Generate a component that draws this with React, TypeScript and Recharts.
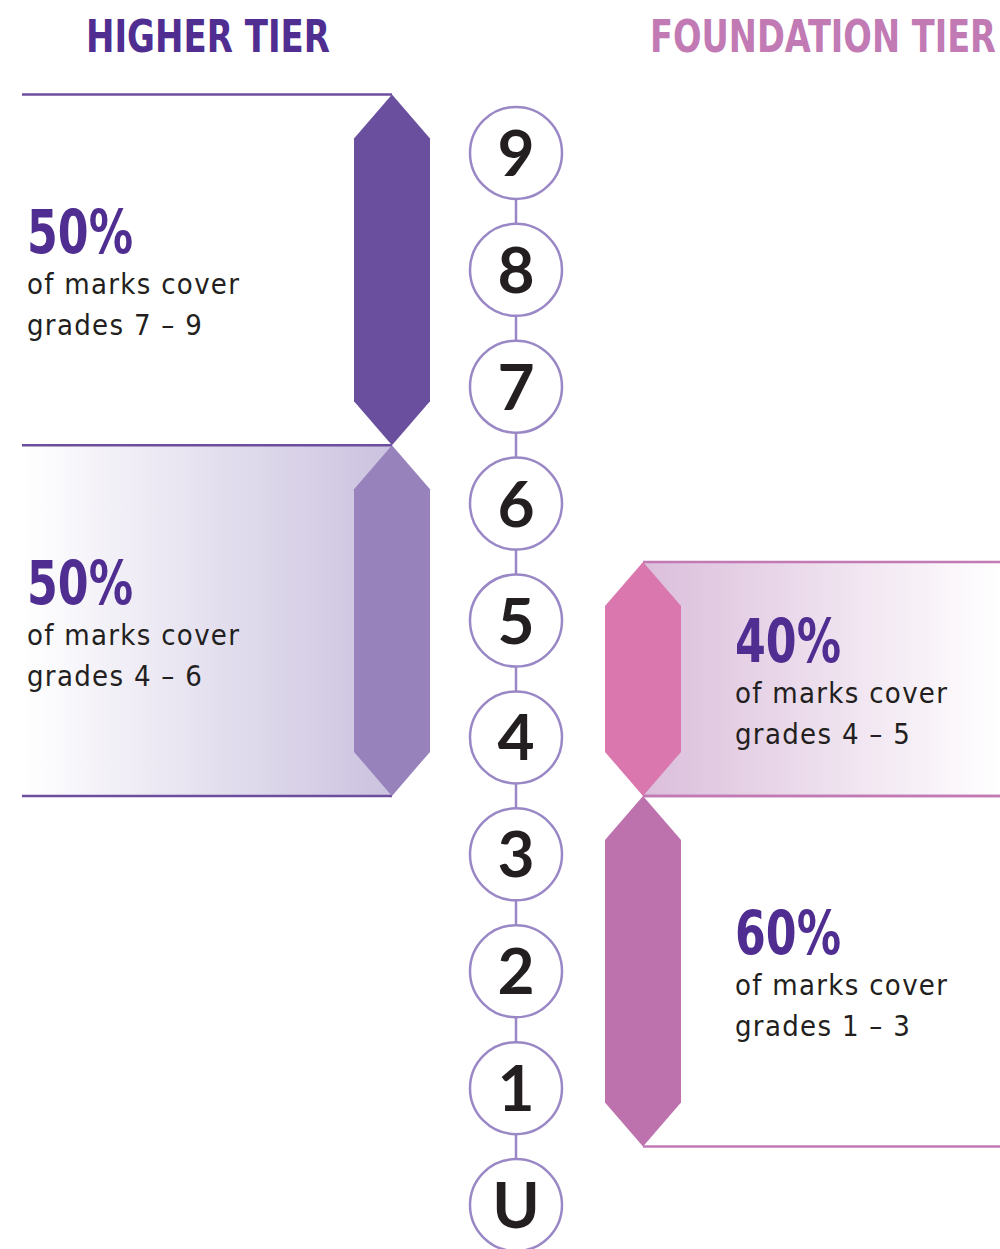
import { ComposedChart, XAxis, YAxis, Line, Scatter, ReferenceArea, Customized } from 'recharts';

// grades from bottom (U) to top (9)
const grades = ['U', '1', '2', '3', '4', '5', '6', '7', '8', '9'];
const tierTitles = ['HIGHER TIER', 'FOUNDATION TIER'];

// mark bands
const bandTier = ['higher', 'higher', 'foundation', 'foundation'];
const bandFrom = [7, 4, 4, 1];
const bandTo = [9, 6, 5, 3];
const bandPercent = [50, 50, 40, 60];

const W = 1000;
const H = 1249;
const SPINE_X = 516;
const FONT = '"DejaVu Sans Condensed", "DejaVu Sans", sans-serif';

const bandStyles = [
  { hex: '#6a4f9e', line: '#6b4f9e', grad: null },
  { hex: '#9782bc', line: '#6b4f9e', grad: ['#ffffff', '#cbc2df'] },
  { hex: '#da77ae', line: '#c27ab4', grad: ['#dbbedb', '#ffffff'] },
  { hex: '#bd72ad', line: '#c27ab4', grad: null },
];

const gradeData = grades.map((g, i) => ({ x: SPINE_X, y: i, label: g }));

function Band(props: any) {
  const { x, y, width, height, idx } = props;
  const st = bandStyles[idx];
  const higher = bandTier[idx] === 'higher';
  const tipX = higher ? x + width : x;
  const hw = 38;
  const dy = 44;
  const top = y;
  const bot = y + height;
  const mid = (top + bot) / 2;
  const tx = higher ? 27 : 735;
  const gid = 'bandgrad' + idx;
  const hex = `M${tipX},${top} L${tipX + hw},${top + dy} L${tipX + hw},${bot - dy} L${tipX},${bot} L${tipX - hw},${bot - dy} L${tipX - hw},${top + dy} Z`;
  return (
    <g>
      {st.grad && (
        <defs>
          <linearGradient id={gid} x1="0" y1="0" x2="1" y2="0">
            <stop offset="0%" stopColor={st.grad[0]} />
            <stop offset="100%" stopColor={st.grad[1]} />
          </linearGradient>
        </defs>
      )}
      {st.grad && <rect x={x} y={top} width={width} height={height} fill={`url(#${gid})`} />}
      <line x1={x} x2={x + width} y1={top} y2={top} stroke={st.line} strokeWidth={2.5} />
      <line x1={x} x2={x + width} y1={bot} y2={bot} stroke={st.line} strokeWidth={2.5} />
      <path d={hex} fill={st.hex} />
      <text
        x={tx}
        y={mid - 17}
        fontFamily={FONT}
        fontWeight="bold"
        fontSize={60}
        fill="#4f2d91"
        textLength={106}
        lengthAdjust="spacingAndGlyphs"
      >
        {bandPercent[idx]}%
      </text>
      <text x={tx} y={mid + 24} fontFamily={FONT} fontSize={29} letterSpacing={1.3} fill="#231f20">
        of marks cover
      </text>
      <text x={tx} y={mid + 65} fontFamily={FONT} fontSize={29} letterSpacing={1.3} fill="#231f20">
        {`grades ${bandFrom[idx]} \u2013 ${bandTo[idx]}`}
      </text>
    </g>
  );
}

function GradeCircle(props: any) {
  const { cx, cy, payload } = props;
  return (
    <g>
      <circle cx={cx} cy={cy} r={46} fill="#ffffff" stroke="#9a88c6" strokeWidth={2.5} />
      <text
        x={cx}
        y={cy + 23}
        textAnchor="middle"
        fontFamily="Lato, sans-serif"
        fontWeight="bold"
        fontSize={64}
        fill="#231f20"
      >
        {payload.label}
      </text>
    </g>
  );
}

function Titles() {
  return (
    <g fontFamily={FONT} fontWeight="bold" fontSize={45}>
      <text x={86} y={52} fill="#4f2d91" textLength={244} lengthAdjust="spacingAndGlyphs">
        {tierTitles[0]}
      </text>
      <text x={650} y={52} fill="#c27ab4" textLength={346} lengthAdjust="spacingAndGlyphs">
        {tierTitles[1]}
      </text>
    </g>
  );
}

export default function App() {
  return (
    <div style={{ position: 'absolute', left: 0, top: 0, width: W, height: H, background: '#fff' }}>
      <ComposedChart
        width={W}
        height={H}
        data={gradeData}
        margin={{ top: 0, right: 0, bottom: 0, left: 0 }}
      >
        <XAxis type="number" dataKey="x" domain={[0, W]} hide />
        <YAxis type="number" dataKey="y" domain={[-0.376, 10.308]} hide />
        {bandFrom.map((f, i) => {
          const higher = bandTier[i] === 'higher';
          return (
            <ReferenceArea
              key={i}
              x1={higher ? 22 : 643}
              x2={higher ? 392 : W}
              y1={f - 0.5}
              y2={bandTo[i] + 0.5}
              ifOverflow="visible"
              shape={(p: any) => <Band {...p} idx={i} />}
            />
          );
        })}
        <Line
          dataKey="y"
          stroke="#9a88c6"
          strokeWidth={2.5}
          dot={false}
          activeDot={false}
          isAnimationActive={false}
        />
        <Scatter data={gradeData} dataKey="y" shape={GradeCircle} isAnimationActive={false} />
        <Customized component={Titles} />
      </ComposedChart>
    </div>
  );
}
